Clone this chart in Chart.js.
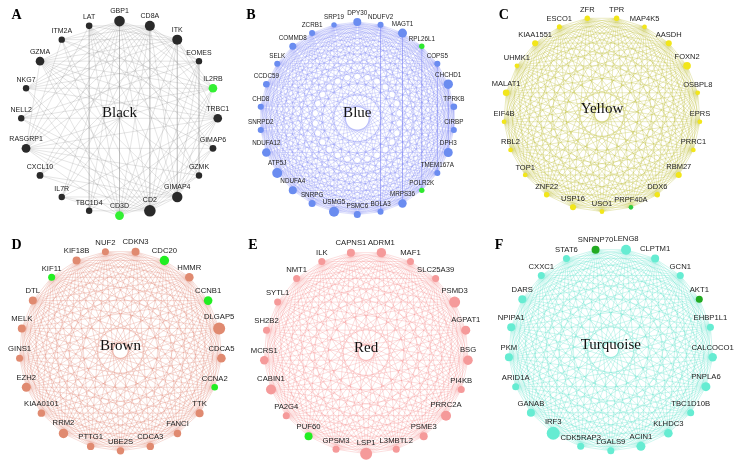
<!DOCTYPE html>
<html>
<head>
<meta charset="utf-8">
<script src="https://cdn.jsdelivr.net/npm/chart.js@4.4.0/dist/chart.umd.min.js"></script>
<style>
  body { margin: 0; background: #fff; }
  #wrap { width: 747px; height: 469px; }
</style>
</head>
<body>
<div id="wrap"><canvas id="net" width="747" height="469"></canvas></div>
<script>
// module genes, clockwise from the top of each circle
const blackGenes = ["GBP1", "CD8A", "ITK", "EOMES", "IL2RB", "TRBC1", "GIMAP6", "GZMK", "GIMAP4", "CD2",
  "CD3D", "TBC1D4", "IL7R", "CXCL10", "RASGRP1", "NELL2", "NKG7", "GZMA", "ITM2A", "LAT"];
const blackSizes = [5.3, 5, 5, 3.2, 4.3, 4.3, 3.4, 3.2, 5.2, 5.8, 4.4, 3.2, 3.2, 3.4, 4.4, 3.2, 3.2, 4.3, 3.2, 3.3];

const blueGenes = ["DPY30", "NDUFV2", "MAGT1", "RPL26L1", "COPS5", "CHCHD1", "TPRKB", "CIRBP", "DPH3",
  "TMEM167A", "POLR2K", "MRPS36", "BOLA3", "PSMC6", "USMG5", "SNRPG", "NDUFA4", "ATP5J", "NDUFA12",
  "SNRPD2", "CHD8", "CCDC59", "SELK", "COMMD8", "ZCRB1", "SRP19"];
const blueSizes = [4, 3, 4.5, 2.7, 3, 4.7, 3.3, 3, 4.5, 3, 2.7, 4.2, 3, 3.5, 5, 3.5, 4, 5, 4.3, 3, 3, 3.3, 3, 3.5, 3, 2.7];

const yellowGenes = ["ZFR", "TPR", "MAP4K5", "AASDH", "FOXN2", "OSBPL8", "EPRS", "PRRC1", "RBM27", "DDX6",
  "PRPF40A", "USO1", "USP16", "ZNF22", "TOP1", "RBL2", "EIF4B", "MALAT1", "UHMK1", "KIAA1551", "ESCO1"];
const yellowSizes = [2.7, 2.7, 2.3, 3, 3.8, 2.3, 2.3, 2.3, 3, 2.7, 2.3, 2.3, 3, 2.7, 2.3, 2.3, 2.3, 3.3, 2.3, 3, 2.5];

const brownGenes = ["NUF2", "CDKN3", "CDC20", "HMMR", "CCNB1", "DLGAP5", "CDCA5", "CCNA2", "TTK", "FANCI",
  "CDCA3", "UBE2S", "PTTG1", "RRM2", "KIAA0101", "EZH2", "GINS1", "MELK", "DTL", "KIF11", "KIF18B"];
const brownSizes = [3.5, 4, 4.7, 4.3, 4.3, 6, 4.3, 3.3, 4, 3.7, 3.7, 3.7, 3.7, 4.7, 3.7, 4.5, 3.5, 4, 4, 3.5, 4];

const redGenes = ["CAPNS1", "ADRM1", "MAF1", "SLC25A39", "PSMD3", "AGPAT1", "BSG", "PI4KB", "PRRC2A", "PSME3",
  "L3MBTL2", "LSP1", "GPSM3", "PUF60", "PA2G4", "CABIN1", "MCRS1", "SH2B2", "SYTL1", "NMT1", "ILK"];
const redSizes = [4, 4.7, 3.5, 3.5, 5.5, 4.5, 4.7, 3.5, 5, 4, 3.5, 6, 3.5, 4, 3.5, 5, 4.2, 3.5, 3.5, 3.5, 3.5];

const turquoiseGenes = ["SNRNP70", "LENG8", "CLPTM1", "GCN1", "AKT1", "EHBP1L1", "CALCOCO1", "PNPLA6",
  "TBC1D10B", "KLHDC3", "ACIN1", "LGALS9", "CDK5RAP3", "IRF3", "GANAB", "ARID1A", "PKM", "NPIPA1", "DARS",
  "CXXC1", "STAT6"];
const turquoiseSizes = [4, 5, 4, 3.5, 3.5, 3.5, 4.2, 4.5, 3.5, 4.3, 4.5, 3.5, 3.5, 6.5, 4, 3.5, 4, 4, 4, 3.5, 3.5];

// hub genes drawn in green
const hubGenes = ["IL2RB", "CD3D", "RPL26L1", "POLR2K", "PRPF40A", "CDC20", "CCNB1", "CCNA2", "KIF11",
  "PUF60", "SNRNP70", "AKT1"];

// black module is not fully connected: gene -> partners
const blackLinks = [
  ["GBP1", ["ITK", "EOMES", "IL2RB", "TRBC1", "GIMAP6", "GZMK", "GIMAP4", "CD2", "CD3D", "TBC1D4", "IL7R",
    "CXCL10", "RASGRP1", "NELL2", "NKG7", "GZMA", "ITM2A"]],
  ["CD8A", ["EOMES", "IL2RB", "TRBC1", "GIMAP4", "CD2", "CD3D", "TBC1D4", "IL7R", "CXCL10", "RASGRP1",
    "NELL2", "NKG7", "GZMA", "ITM2A", "LAT"]],
  ["ITK", ["IL2RB", "TRBC1", "GIMAP4", "CD2", "CD3D", "IL7R", "RASGRP1", "NKG7", "GZMA", "ITM2A", "LAT", "CXCL10"]],
  ["CD2", ["IL2RB", "TRBC1", "GIMAP6", "GZMK", "GIMAP4", "TBC1D4", "IL7R", "CXCL10", "RASGRP1", "NELL2",
    "NKG7", "GZMA", "ITM2A", "LAT", "EOMES"]],
  ["CD3D", ["EOMES", "IL2RB", "TRBC1", "GIMAP6", "GZMK", "GIMAP4", "RASGRP1", "NKG7", "GZMA", "ITM2A", "LAT", "IL7R"]],
  ["GIMAP4", ["TRBC1", "GIMAP6", "IL2RB", "EOMES", "RASGRP1", "NELL2", "CXCL10", "IL7R", "GZMA", "LAT"]],
  ["TRBC1", ["NELL2", "RASGRP1", "TBC1D4", "IL7R", "GZMA", "ITM2A", "LAT", "NKG7"]],
  ["GZMA", ["EOMES", "IL2RB", "GIMAP6", "GZMK", "RASGRP1"]],
  ["RASGRP1", ["IL2RB", "GIMAP6", "GZMK", "LAT", "ITM2A"]],
  ["EOMES", ["GZMK", "NKG7", "NELL2", "CXCL10"]],
  ["LAT", ["TBC1D4", "GZMK", "GIMAP6"]],
  ["IL2RB", ["NKG7", "NELL2", "ITM2A"]]
];

const panels = [
  { letter: "A", title: "Black", genes: blackGenes, sizes: blackSizes, links: blackLinks,
    cx: 115, cy: 115, r: 100, font: 7, node: "#2a2a2a", hub: "#33f033", edge: "rgba(120,120,120,0.33)" },
  { letter: "B", title: "Blue", genes: blueGenes, sizes: blueSizes, links: "complete", skipOpposite: true,
    cx: 357, cy: 115, r: 99, font: 6.3, node: "#6a8cf0", hub: "#2ee82e", edge: "rgba(100,110,240,0.36)" },
  { letter: "C", title: "Yellow", genes: yellowGenes, sizes: yellowSizes, links: "complete",
    cx: 606, cy: 111, r: 100, font: 7.5, node: "#f2e61a", hub: "#2ecc40", edge: "rgba(185,185,40,0.5)" },
  { letter: "D", title: "Brown", genes: brownGenes, sizes: brownSizes, links: "complete",
    cx: 116, cy: 354, r: 103, font: 7.7, node: "#e08a70", hub: "#22ee22", edge: "rgba(220,115,95,0.42)" },
  { letter: "E", title: "Red", genes: redGenes, sizes: redSizes, links: "complete",
    cx: 366, cy: 356, r: 104, font: 7.7, node: "#f59a9a", hub: "#22ee22", edge: "rgba(240,110,110,0.38)" },
  { letter: "F", title: "Turquoise", genes: turquoiseGenes, sizes: turquoiseSizes, links: "complete",
    cx: 615, cy: 353, r: 104, font: 7.7, node: "#66ecd2", hub: "#22aa22", edge: "rgba(70,220,195,0.45)" }
];

// circular layout, first gene on top (or just left of top when the count is odd)
panels.forEach(p => {
  const n = p.genes.length;
  const start = 90 + (n % 2 ? 180 / n : 0);
  p.nodes = p.genes.map((g, i) => {
    const a = (start - i * 360 / n) * Math.PI / 180;
    return { gene: g, x: p.cx + p.r * Math.cos(a), y: p.cy - p.r * Math.sin(a), r: p.sizes[i] };
  });
  const idx = {};
  p.genes.forEach((g, i) => idx[g] = i);
  const pairs = [];
  if (p.links === "complete") {
    for (let i = 0; i < n; i++) {
      for (let j = i + 1; j < n; j++) {
        if (p.skipOpposite && j - i === n / 2) continue;
        pairs.push([i, j]);
      }
    }
  } else {
    p.links.forEach(([a, list]) => list.forEach(b => pairs.push([idx[a], idx[b]])));
  }
  p.edges = [];
  pairs.forEach(([i, j]) => {
    p.edges.push({ x: p.nodes[i].x, y: p.nodes[i].y }, { x: p.nodes[j].x, y: p.nodes[j].y }, { x: NaN, y: NaN });
  });
});

const datasets = [];
panels.forEach(p => {
  datasets.push({
    data: p.nodes.map(n => ({ x: n.x, y: n.y })),
    pointRadius: p.nodes.map(n => n.r),
    backgroundColor: p.nodes.map(n => hubGenes.includes(n.gene) ? p.hub : p.node),
    borderWidth: 0,
    order: 0
  });
  datasets.push({
    data: p.edges,
    showLine: true,
    spanGaps: false,
    pointRadius: 0,
    borderColor: p.edge,
    borderWidth: 0.6,
    order: 1
  });
});

const geneLabels = {
  id: "geneLabels",
  afterDatasetsDraw(chart) {
    const { ctx, scales: { x, y } } = chart;
    ctx.save();
    panels.forEach(p => {
      ctx.fillStyle = "#222";
      ctx.textAlign = "center";
      ctx.textBaseline = "bottom";
      ctx.font = `${p.font}px "Liberation Sans", Arial, sans-serif`;
      p.nodes.forEach(n => {
        ctx.fillText(n.gene, x.getPixelForValue(n.x), y.getPixelForValue(n.y) - n.r - 1.5);
      });
      ctx.fillStyle = "#111";
      ctx.textBaseline = "middle";
      ctx.font = '15px "Liberation Serif", "Times New Roman", serif';
      ctx.fillText(p.title, x.getPixelForValue(p.cx), y.getPixelForValue(p.cy - 5));
    });
    ctx.font = 'bold 14px "Liberation Serif", "Times New Roman", serif';
    ctx.textAlign = "left";
    ctx.textBaseline = "top";
    ctx.fillStyle = "#000";
    [["A", 5, 2], ["B", 244, 2], ["C", 501, 2], ["D", 5, 239], ["E", 246, 239], ["F", 497, 239]]
      .forEach(([t, lx, ly]) => ctx.fillText(t, x.getPixelForValue(lx), y.getPixelForValue(ly)));
    ctx.restore();
  }
};

new Chart(document.getElementById("net"), {
  type: "scatter",
  data: { datasets },
  options: {
    responsive: false,
    animation: false,
    devicePixelRatio: 1,
    events: [],
    layout: { padding: 0 },
    plugins: { legend: { display: false }, tooltip: { enabled: false } },
    scales: {
      x: { type: "linear", min: 0, max: 747, display: false },
      y: { type: "linear", min: 0, max: 469, reverse: true, display: false }
    }
  },
  plugins: [geneLabels]
});
</script>
</body>
</html>
